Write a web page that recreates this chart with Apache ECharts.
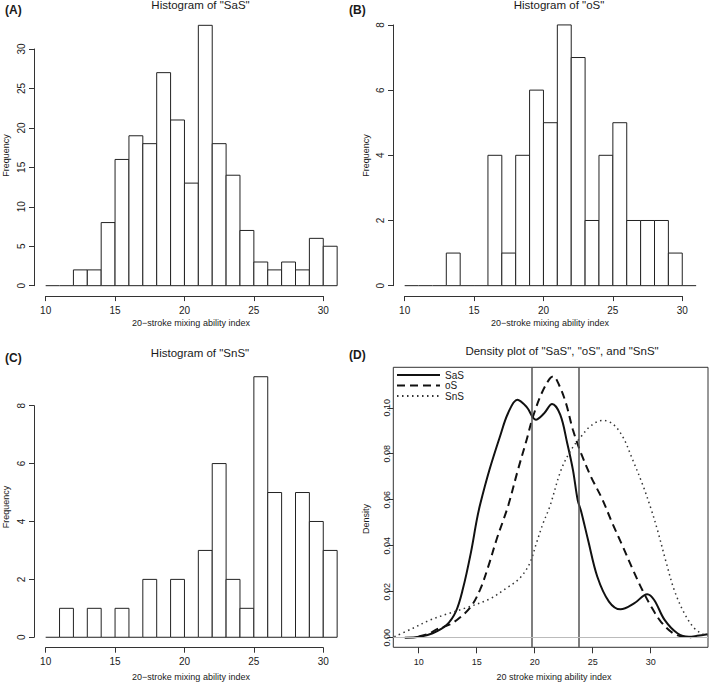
<!DOCTYPE html>
<html><head><meta charset="utf-8">
<script src="https://cdn.jsdelivr.net/npm/echarts@6/dist/echarts.min.js"></script>
<style>html,body{margin:0;padding:0;background:#fff}#c{width:709px;height:682px}</style>
</head><body><div id="c"></div>
<script>
// ---------- DATA ----------
const histBreaks = [10,11,12,13,14,15,16,17,18,19,20,21,22,23,24,25,26,27,28,29,30,31];
const sasCounts = [0,0,2,2,8,16,19,18,27,21,13,33,18,14,7,3,2,3,2,6,5];
const osCounts  = [0,0,0,1,0,0,4,1,4,6,5,8,7,2,4,5,2,2,2,1,0];
const snsCounts = [0,1,0,1,0,1,0,2,0,2,0,3,6,2,1,9,5,0,5,4,3];

const histXTicks = [10,15,20,25,30];
const sasYTicks = [0,5,10,15,20,25,30];
const osYTicks  = [0,2,4,6,8];
const snsYTicks = [0,2,4,6,8];

const densXTicks = [10,15,20,25,30];
const densYTicks = [0,0.02,0.04,0.06,0.08,0.10];

const sasX = [8.8,10.1,11.2,12.4,13.2,13.8,14.5,15.0,15.3,16.1,17.0,17.7,18.5,19.3,20.1,20.8,21.5,22.2,22.8,23.3,23.7,24.0,24.6,25.4,26.4,27.4,28.6,29.7,30.3,31.2,32.3,33.3,34.0,34.9];
const sasY = [0.0,0.0004,0.0019,0.0055,0.0113,0.021,0.037,0.051,0.058,0.073,0.0874,0.0976,0.1035,0.1004,0.0948,0.0975,0.1016,0.097,0.0847,0.0729,0.06,0.055,0.0425,0.0265,0.0157,0.0123,0.015,0.0189,0.0164,0.0077,0.0019,0.0004,0.0008,0.0015];

const osX = [10.0,11.0,11.5,12.7,13.5,14.5,15.3,16.0,16.7,17.3,17.75,18.55,19.3,19.85,20.6,21.3,21.6,22.1,22.7,23.3,24.0,24.85,25.8,26.7,27.6,28.45,29.3,30.1,30.9,31.9,32.7,33.5];
const osY = [0.0005,0.002,0.0035,0.0058,0.0085,0.0135,0.021,0.031,0.0425,0.0512,0.058,0.0729,0.086,0.0961,0.1063,0.1127,0.1137,0.1099,0.1019,0.0903,0.0802,0.07,0.0605,0.0497,0.0396,0.0297,0.0205,0.013,0.0068,0.002,0.0005,0.0002];

const snsX = [7.9,9.5,11.0,12.4,14.1,16.1,17.55,18.7,19.57,20.14,20.72,21.3,22.27,23.13,23.99,24.85,25.86,26.72,27.59,28.45,29.31,30.03,30.6,31.32,32.03,32.9,33.76,34.62,34.9];
const snsY = [0.0004,0.0041,0.0077,0.0102,0.013,0.0168,0.0215,0.0258,0.0323,0.041,0.0497,0.057,0.0729,0.0816,0.0874,0.0922,0.0945,0.093,0.0874,0.0773,0.0665,0.056,0.0465,0.033,0.0207,0.0106,0.0041,0.0012,0.0008];

const refLines = [19.74, 23.84];
const densNames = ['SaS','oS','SnS'];

// ---------- STYLE / LAYOUT ----------
const FONT = 'Liberation Sans, Arial, Helvetica, sans-serif';
const INK = '#1a1a1a';
const AX = '#333';

const grids = [], xAxes = [], yAxes = [], series = [], graphics = [];

function addText(text, x, y, size, opts) {
  opts = opts || {};
  graphics.push({
    type: 'text', x: x, y: y, rotation: opts.rot || 0, silent: true,
    style: { text: text, fontSize: size, fontFamily: FONT, fontWeight: opts.bold ? 'bold' : 'normal',
      fill: INK, align: opts.align || 'center', verticalAlign: 'middle' }
  });
}

function panel(box, xr, yr, xTicks, yTicks, o) {
  const px = v => box.left + (v - xr[0]) / (xr[1] - xr[0]) * box.width;
  const py = v => box.top + (yr[1] - v) / (yr[1] - yr[0]) * box.height;
  const gd = grids.length;
  grids.push({ left: box.left, top: box.top, width: box.width, height: box.height,
    show: !!o.border, borderColor: AX, borderWidth: 1, backgroundColor: 'transparent', containLabel: false });
  xAxes.push({ gridIndex: gd, type: 'value', min: xr[0], max: xr[1], show: false });
  yAxes.push({ gridIndex: gd, type: 'value', min: yr[0], max: yr[1], show: false });
  const x0 = px(xTicks[0]), x1 = px(xTicks[xTicks.length - 1]);
  const gx = grids.length;
  grids.push({ left: x0, width: x1 - x0, top: box.top, height: box.height, show: false });
  xAxes.push({ gridIndex: gx, type: 'value', position: 'bottom', min: xTicks[0], max: xTicks[xTicks.length - 1],
    interval: xTicks[1] - xTicks[0],
    axisLine: { show: !o.border, onZero: false, lineStyle: { color: AX, width: 1 } },
    axisTick: { show: true, inside: false, length: o.tickLen, lineStyle: { color: AX, width: 1 } },
    axisLabel: { show: true, margin: o.xLabMargin, fontSize: o.tickFont, color: INK, fontFamily: FONT,
      showMinLabel: true, showMaxLabel: true },
    splitLine: { show: false } });
  yAxes.push({ gridIndex: gx, type: 'value', show: false, min: 0, max: 1 });
  const y1 = py(yTicks[yTicks.length - 1]), y0 = py(yTicks[0]);
  const gy = grids.length;
  grids.push({ left: box.left, width: box.width, top: y1, height: y0 - y1, show: false });
  xAxes.push({ gridIndex: gy, type: 'value', show: false, min: 0, max: 1 });
  yAxes.push({ gridIndex: gy, type: 'value', position: 'left', min: yTicks[0], max: yTicks[yTicks.length - 1],
    interval: yTicks[1] - yTicks[0],
    axisLine: { show: !o.border, onZero: false, lineStyle: { color: AX, width: 1 } },
    axisTick: { show: true, inside: false, length: o.tickLen, lineStyle: { color: AX, width: 1 } },
    axisLabel: { show: true, rotate: 90, margin: o.yLabMargin, fontSize: o.tickFont, color: INK, fontFamily: FONT,
      showMinLabel: true, showMaxLabel: true, formatter: o.yFmt || (v => String(v)) },
    splitLine: { show: false } });
  return gd;
}

function histRender(params, api) {
  const x0 = api.value(0), x1 = api.value(1), c = api.value(2);
  const pTop = api.coord([x0, c]);
  const pBot = api.coord([x1, 0]);
  if (c === 0) {
    return { type: 'line', shape: { x1: pTop[0], y1: pBot[1], x2: pBot[0], y2: pBot[1] }, style: { stroke: '#222', lineWidth: 1 } };
  }
  return { type: 'rect', shape: { x: pTop[0], y: pTop[1], width: pBot[0] - pTop[0], height: pBot[1] - pTop[1] },
    style: { fill: '#fff', stroke: '#222', lineWidth: 1 } };
}

function histSeries(gi, counts) {
  const data = counts.map((c, i) => [histBreaks[i], histBreaks[i + 1], c]);
  series.push({ type: 'custom', xAxisIndex: gi, yAxisIndex: gi, renderItem: histRender,
    encode: { x: [0, 1], y: 2 }, data: data, silent: true, animation: false });
}

const histOpts = { tickLen: 5, tickFont: 10, xLabMargin: 9, yLabMargin: 8 };
const hxr = [9.16, 31.84];

const gA = panel({ left: 34, top: 14.9, width: 314.8, height: 281.2 }, hxr, [-1.32, 34.32], histXTicks, sasYTicks, histOpts);
histSeries(gA, sasCounts);
const gB = panel({ left: 393, top: 14.5, width: 314.8, height: 281.6 }, hxr, [-0.32, 8.32], histXTicks, osYTicks, histOpts);
histSeries(gB, osCounts);
const gC = panel({ left: 34, top: 366.3, width: 314.8, height: 281.4 }, hxr, [-0.36, 9.36], histXTicks, snsYTicks, histOpts);
histSeries(gC, snsCounts);
const gD = panel({ left: 393.3, top: 367.3, width: 314.7, height: 280 }, [7.81, 34.94], [-0.0042, 0.1176],
  densXTicks, densYTicks, { border: true, tickLen: 6, tickFont: 9, xLabMargin: 10, yLabMargin: 1.5, yFmt: v => v.toFixed(2) });

const zip = (xs, ys) => xs.map((x, i) => [x, ys[i]]);
series.push({ name: densNames[0], type: 'line', xAxisIndex: gD, yAxisIndex: gD, data: zip(sasX, sasY), smooth: 0.35,
  symbol: 'none', lineStyle: { color: '#111', width: 2, type: 'solid' }, itemStyle: { color: '#111' }, animation: false,
  markLine: { silent: true, symbol: 'none', label: { show: false }, animation: false,
    data: refLines.map(v => ({ xAxis: v, lineStyle: { color: '#555', width: 1.5, type: 'solid' } }))
      .concat([{ yAxis: 0, lineStyle: { color: '#bbb', width: 1, type: 'solid' } }]) } });
series.push({ name: densNames[1], type: 'line', xAxisIndex: gD, yAxisIndex: gD, data: zip(osX, osY), smooth: 0.35,
  symbol: 'none', lineStyle: { color: '#111', width: 2, type: [8, 5] }, itemStyle: { color: '#111' }, animation: false });
series.push({ name: densNames[2], type: 'line', xAxisIndex: gD, yAxisIndex: gD, data: zip(snsX, snsY), smooth: 0.35,
  symbol: 'none', lineStyle: { color: '#333', width: 1.5, type: [1.5, 3.5] }, itemStyle: { color: '#333' }, animation: false });

// ---------- TEXT ----------
addText('(A)', 5, 10, 12, { bold: true, align: 'left' });
addText('(B)', 349, 10, 12, { bold: true, align: 'left' });
addText('(C)', 5, 357.5, 12, { bold: true, align: 'left' });
addText('(D)', 349, 355, 12, { bold: true, align: 'left' });
addText('Histogram of "SaS"', 200.5, 5, 11.5);
addText('Histogram of "oS"', 559, 5, 11.5);
addText('Histogram of "SnS"', 200, 353.3, 11.5);
addText('Density plot of "SaS", "oS", and "SnS"', 562, 351, 11.5);
addText('20\u2212stroke mixing ability index', 191, 323.3, 9);
addText('20\u2212stroke mixing ability index', 550, 323.3, 9);
addText('20\u2212stroke mixing ability index', 191, 676.7, 9);
addText('20 stroke mixing ability index', 554, 676.7, 9);
addText('Frequency', 5.5, 155.5, 9, { rot: Math.PI / 2 });
addText('Frequency', 365.5, 155.5, 9, { rot: Math.PI / 2 });
addText('Frequency', 5.5, 507, 9, { rot: Math.PI / 2 });
addText('Density', 365.5, 519, 9, { rot: Math.PI / 2 });

const chart = echarts.init(document.getElementById('c'), null, { renderer: 'svg', width: 709, height: 682 });
chart.setOption({
  backgroundColor: '#fff',
  animation: false,
  grid: grids, xAxis: xAxes, yAxis: yAxes, series: series, graphic: graphics,
  legend: { data: densNames, orient: 'vertical', left: 396, top: 370, itemWidth: 43, itemHeight: 10, itemGap: 0.5,
    selectedMode: false, padding: 0, itemStyle: { opacity: 0 },
    textStyle: { fontSize: 10, fontFamily: FONT, color: INK, lineHeight: 10 } }
});
</script></body></html>
